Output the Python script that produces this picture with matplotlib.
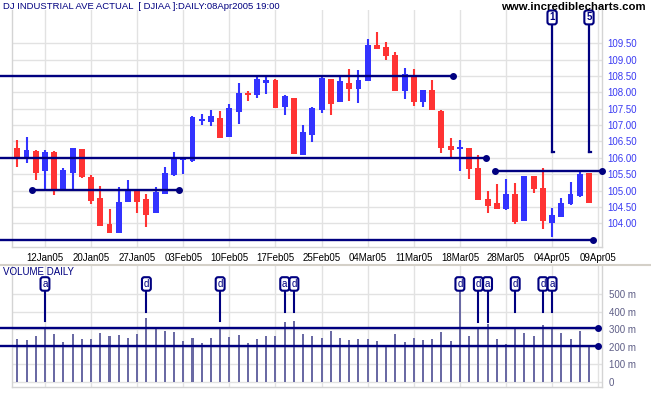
import matplotlib
matplotlib.use("Agg")
import matplotlib.pyplot as plt
import numpy as np

plt.rcParams['font.family'] = ['Liberation Sans', 'DejaVu Sans']

# ---------------- data ----------------
opens = [106.29, 106.02, 106.22, 105.61, 106.18, 105.04, 105.55, 106.27, 105.41, 104.77,
         103.97, 103.71, 104.66, 105.02, 104.74, 104.33, 104.91, 105.48, 105.94, 105.90,
         107.14, 107.11, 107.22, 106.64, 107.41, 107.99, 107.91, 108.30, 108.38, 107.54,
         107.83, 106.10, 106.70, 107.46, 108.41, 107.72, 108.30, 108.10, 108.36, 109.45,
         109.38, 109.14, 108.04, 108.50, 107.72, 108.07, 107.44, 106.36, 106.28, 106.30,
         105.68, 104.74, 104.61, 104.43, 104.90, 104.08, 105.45, 105.07, 104.02, 104.20,
         104.58, 104.84, 105.53]
highs = [106.55, 106.65, 106.23, 106.24, 106.20, 105.69, 106.29, 106.28, 105.47, 105.14,
         104.44, 105.10, 105.32, 105.03, 104.90, 105.10, 105.71, 106.18, 106.04, 107.29,
         107.34, 107.46, 107.43, 107.65, 108.30, 108.04, 108.53, 108.53, 108.40, 107.91,
         107.84, 106.99, 107.55, 108.50, 108.42, 108.50, 108.71, 108.68, 109.63, 109.85,
         109.54, 109.23, 108.76, 108.71, 108.08, 108.38, 107.45, 106.62, 106.55, 106.31,
         106.10, 104.99, 105.20, 105.35, 105.23, 105.46, 105.46, 105.69, 104.47, 104.78,
         105.26, 105.60, 105.54]
lows = [105.73, 105.85, 105.32, 105.02, 104.87, 105.02, 105.02, 105.38, 104.59, 103.92,
        103.70, 103.70, 104.65, 104.33, 103.90, 104.32, 104.90, 105.46, 105.51, 105.88,
        107.00, 106.97, 106.61, 106.63, 107.03, 107.75, 107.82, 107.95, 107.52, 107.31,
        106.12, 106.09, 106.49, 107.38, 107.31, 107.71, 107.74, 107.69, 108.34, 109.33,
        108.99, 108.03, 107.80, 107.59, 107.56, 107.45, 106.14, 106.01, 105.60, 105.36,
        104.70, 104.32, 104.43, 104.42, 103.99, 104.07, 104.94, 103.84, 103.59, 104.19,
        104.57, 104.79, 104.62]
closes = [106.04, 106.24, 105.55, 106.19, 105.04, 105.63, 106.29, 105.40, 104.69, 103.93,
          103.71, 104.65, 105.04, 104.66, 104.25, 104.95, 105.55, 106.00, 105.99, 107.24,
          107.20, 107.28, 106.62, 107.52, 107.99, 107.91, 108.41, 108.38, 107.53, 107.89,
          106.13, 106.78, 107.53, 108.43, 107.65, 108.35, 108.10, 108.38, 109.45, 109.34,
          109.12, 108.04, 108.56, 107.72, 108.07, 107.46, 106.31, 106.24, 106.33, 105.65,
          104.71, 104.54, 104.44, 104.89, 104.05, 105.45, 105.04, 104.08, 104.24, 104.61,
          104.90, 105.51, 104.63]
volumes = [243, 238, 260, 300, 272, 226, 272, 243, 243, 280,
           260, 266, 249, 272, 361, 300, 289, 283, 234, 249,
           221, 249, 312, 255, 266, 221, 243, 260, 260, 340,
           346, 272, 260, 249, 289, 249, 238, 243, 243, 232,
           209, 272, 226, 249, 238, 243, 283, 232, 530, 260,
           312, 329, 243, 215, 306, 277, 260, 323, 300, 277,
           243, 289, 204]

date_ticks = [3, 8, 13, 18, 23, 28, 33, 38, 43, 48, 53, 58, 63]
date_labels = ['12Jan05', '20Jan05', '27Jan05', '03Feb05', '10Feb05', '17Feb05', '25Feb05',
               '04Mar05', '11Mar05', '18Mar05', '28Mar05', '04Apr05', '09Apr05']
price_ticks = [104.0, 104.5, 105.0, 105.5, 106.0, 106.5, 107.0, 107.5, 108.0, 108.5, 109.0, 109.5]
vol_ticks = [0, 100, 200, 300, 400, 500]
vol_tick_labels = ['0', '100 m', '200 m', '300 m', '400 m', '500 m']

# support / resistance lines: (level, start index, end index, dot at start)
price_lines = [(108.50, -1.9, 47.2, False),
               (106.01, -1.9, 50.8, False),
               (105.02, 1.63, 17.57, True),
               (103.48, -1.9, 62.4, False),
               (105.60, 51.8, 63.4, True)]
volume_lines = [(305, -1.9, 63.0), (205, -1.9, 63.0)]

# wave labels in price panel: (index, text, stem end price)
wave_marks = [(58, '1', 106.17), (62, '5', 106.17)]
wave_label_y = 110.29

# accumulation / distribution marks on volume: (index, text, stem end)
ad_marks = [(3, 'a', 348), (14, 'd', 399), (22, 'd', 348), (29, 'a', 399), (30, 'd', 399),
            (48, 'd', 530), (50, 'd', 340), (51, 'a', 340), (54, 'd', 399), (57, 'd', 399),
            (58, 'a', 399)]
ad_label_y = 557

# ---------------- figure ----------------
W, H = 651, 395
fig = plt.figure(figsize=(W / 100, H / 100), dpi=100)
fig.patch.set_facecolor('white')

NAVY = '#000080'
RED = '#ff3333'
BLUE = '#3333ff'
GRID = '#e2e2e2'
SPINE = '#d4d4d4'

xlim = (-0.575, 63.38)

axp = fig.add_axes([12 / W, (H - 247) / H, 589.7 / W, 237 / H])
axv = fig.add_axes([12 / W, (H - 386.7) / H, 589.7 / W, 121.7 / H])

for ax in (axp, axv):
    ax.set_xlim(*xlim)
    ax.set_facecolor('white')
    ax.set_axisbelow(True)
    for s in ('left', 'bottom', 'right'):
        ax.spines[s].set_color(SPINE)
        ax.spines[s].set_linewidth(1.0)
    ax.spines['top'].set_visible(False)
    ax.yaxis.tick_right()
    ax.set_xticks(date_ticks)
    ax.tick_params(length=0)
    ax.grid(True, color=GRID, lw=1.0)

# ---- price panel ----
axp.set_ylim(103.276, 110.517)
axp.set_yticks(price_ticks)
axp.set_yticklabels([f'{v:.2f}' for v in price_ticks])
axp.tick_params(axis='y', colors='#3a3af2', labelsize=7, pad=4)
axp.set_xticklabels(date_labels)
axp.tick_params(axis='x', labelsize=7, pad=4.5, colors='black')
for lbl in axp.get_yticklabels():
    lbl.set_color('#3a3af2')

idx = np.arange(len(opens))
o = np.array(opens); c = np.array(closes); h = np.array(highs); l = np.array(lows)
up = c >= o
cols = np.where(up, BLUE, RED)
axp.vlines(idx, l, h, colors=cols, lw=1.5, zorder=3)
body_bottom = np.minimum(o, c)
body_h = np.maximum(np.abs(c - o), 0.05)
axp.bar(idx, body_h, bottom=body_bottom, width=0.64, color=cols, lw=0, zorder=4)

for lvl, x0, x1, dot0 in price_lines:
    axp.plot([x0, x1], [lvl, lvl], color=NAVY, lw=1.7, clip_on=False, zorder=5,
             solid_capstyle='butt')
    axp.plot([x1], [lvl], 'o', color=NAVY, ms=4, clip_on=False, zorder=6)
    if dot0:
        axp.plot([x0], [lvl], 'o', color=NAVY, ms=4, clip_on=False, zorder=6)

for xi, txt, yend in wave_marks:
    axp.plot([xi, xi], [wave_label_y, yend], color=NAVY, lw=1.6, zorder=5, clip_on=False)
    axp.plot([xi, xi + 0.25], [yend, yend], color=NAVY, lw=1.6, zorder=5)
    axp.text(xi, wave_label_y, txt, ha='center', va='center', fontsize=7, color=NAVY,
             fontweight='bold', zorder=7, clip_on=False,
             bbox=dict(boxstyle='round,pad=0.2,rounding_size=0.25', fc='white', ec=NAVY, lw=1.5))

# ---- volume panel ----
axv.set_ylim(-28.5, 665)
axv.set_yticks(vol_ticks)
axv.set_yticklabels(vol_tick_labels)
axv.tick_params(axis='y', colors='#5e5e86', labelsize=7, pad=5)
axv.set_xticklabels([])
axv.bar(idx, volumes, width=0.22, color='#6a6aa4', lw=0, zorder=3)

for lvl, x0, x1 in volume_lines:
    axv.plot([x0, x1], [lvl, lvl], color=NAVY, lw=1.7, clip_on=False, zorder=5)
    axv.plot([x1], [lvl], 'o', color=NAVY, ms=4, clip_on=False, zorder=6)

for xi, txt, yend in ad_marks:
    axv.plot([xi, xi], [ad_label_y, yend], color=NAVY, lw=1.5, zorder=5)
    axv.text(xi, ad_label_y, txt, ha='center', va='center', fontsize=7, color=NAVY,
             zorder=7, bbox=dict(boxstyle='round,pad=0.18,rounding_size=0.25',
                                 fc='white', ec=NAVY, lw=1.5))

# ---- texts & separator ----
fig.text(3 / W, 1 - 6.5 / H, 'DJ INDUSTRIAL AVE ACTUAL  [ DJIAA ]:DAILY:08Apr2005 19:00',
         ha='left', va='center', fontsize=6.8, color=NAVY)
fig.text(646 / W, 1 - 7 / H, 'www.incrediblecharts.com', ha='right', va='center',
         fontsize=8.2, fontweight='bold', color='black')
fig.text(3 / W, 1 - 272 / H, 'VOLUME DAILY', ha='left', va='center', fontsize=7, color=NAVY)
fig.add_artist(plt.Line2D([0, 1], [1 - 264.8 / H, 1 - 264.8 / H], color='#d4d0c8', lw=1.5,
                          transform=fig.transFigure))

fig.savefig('out.png', dpi=100)
